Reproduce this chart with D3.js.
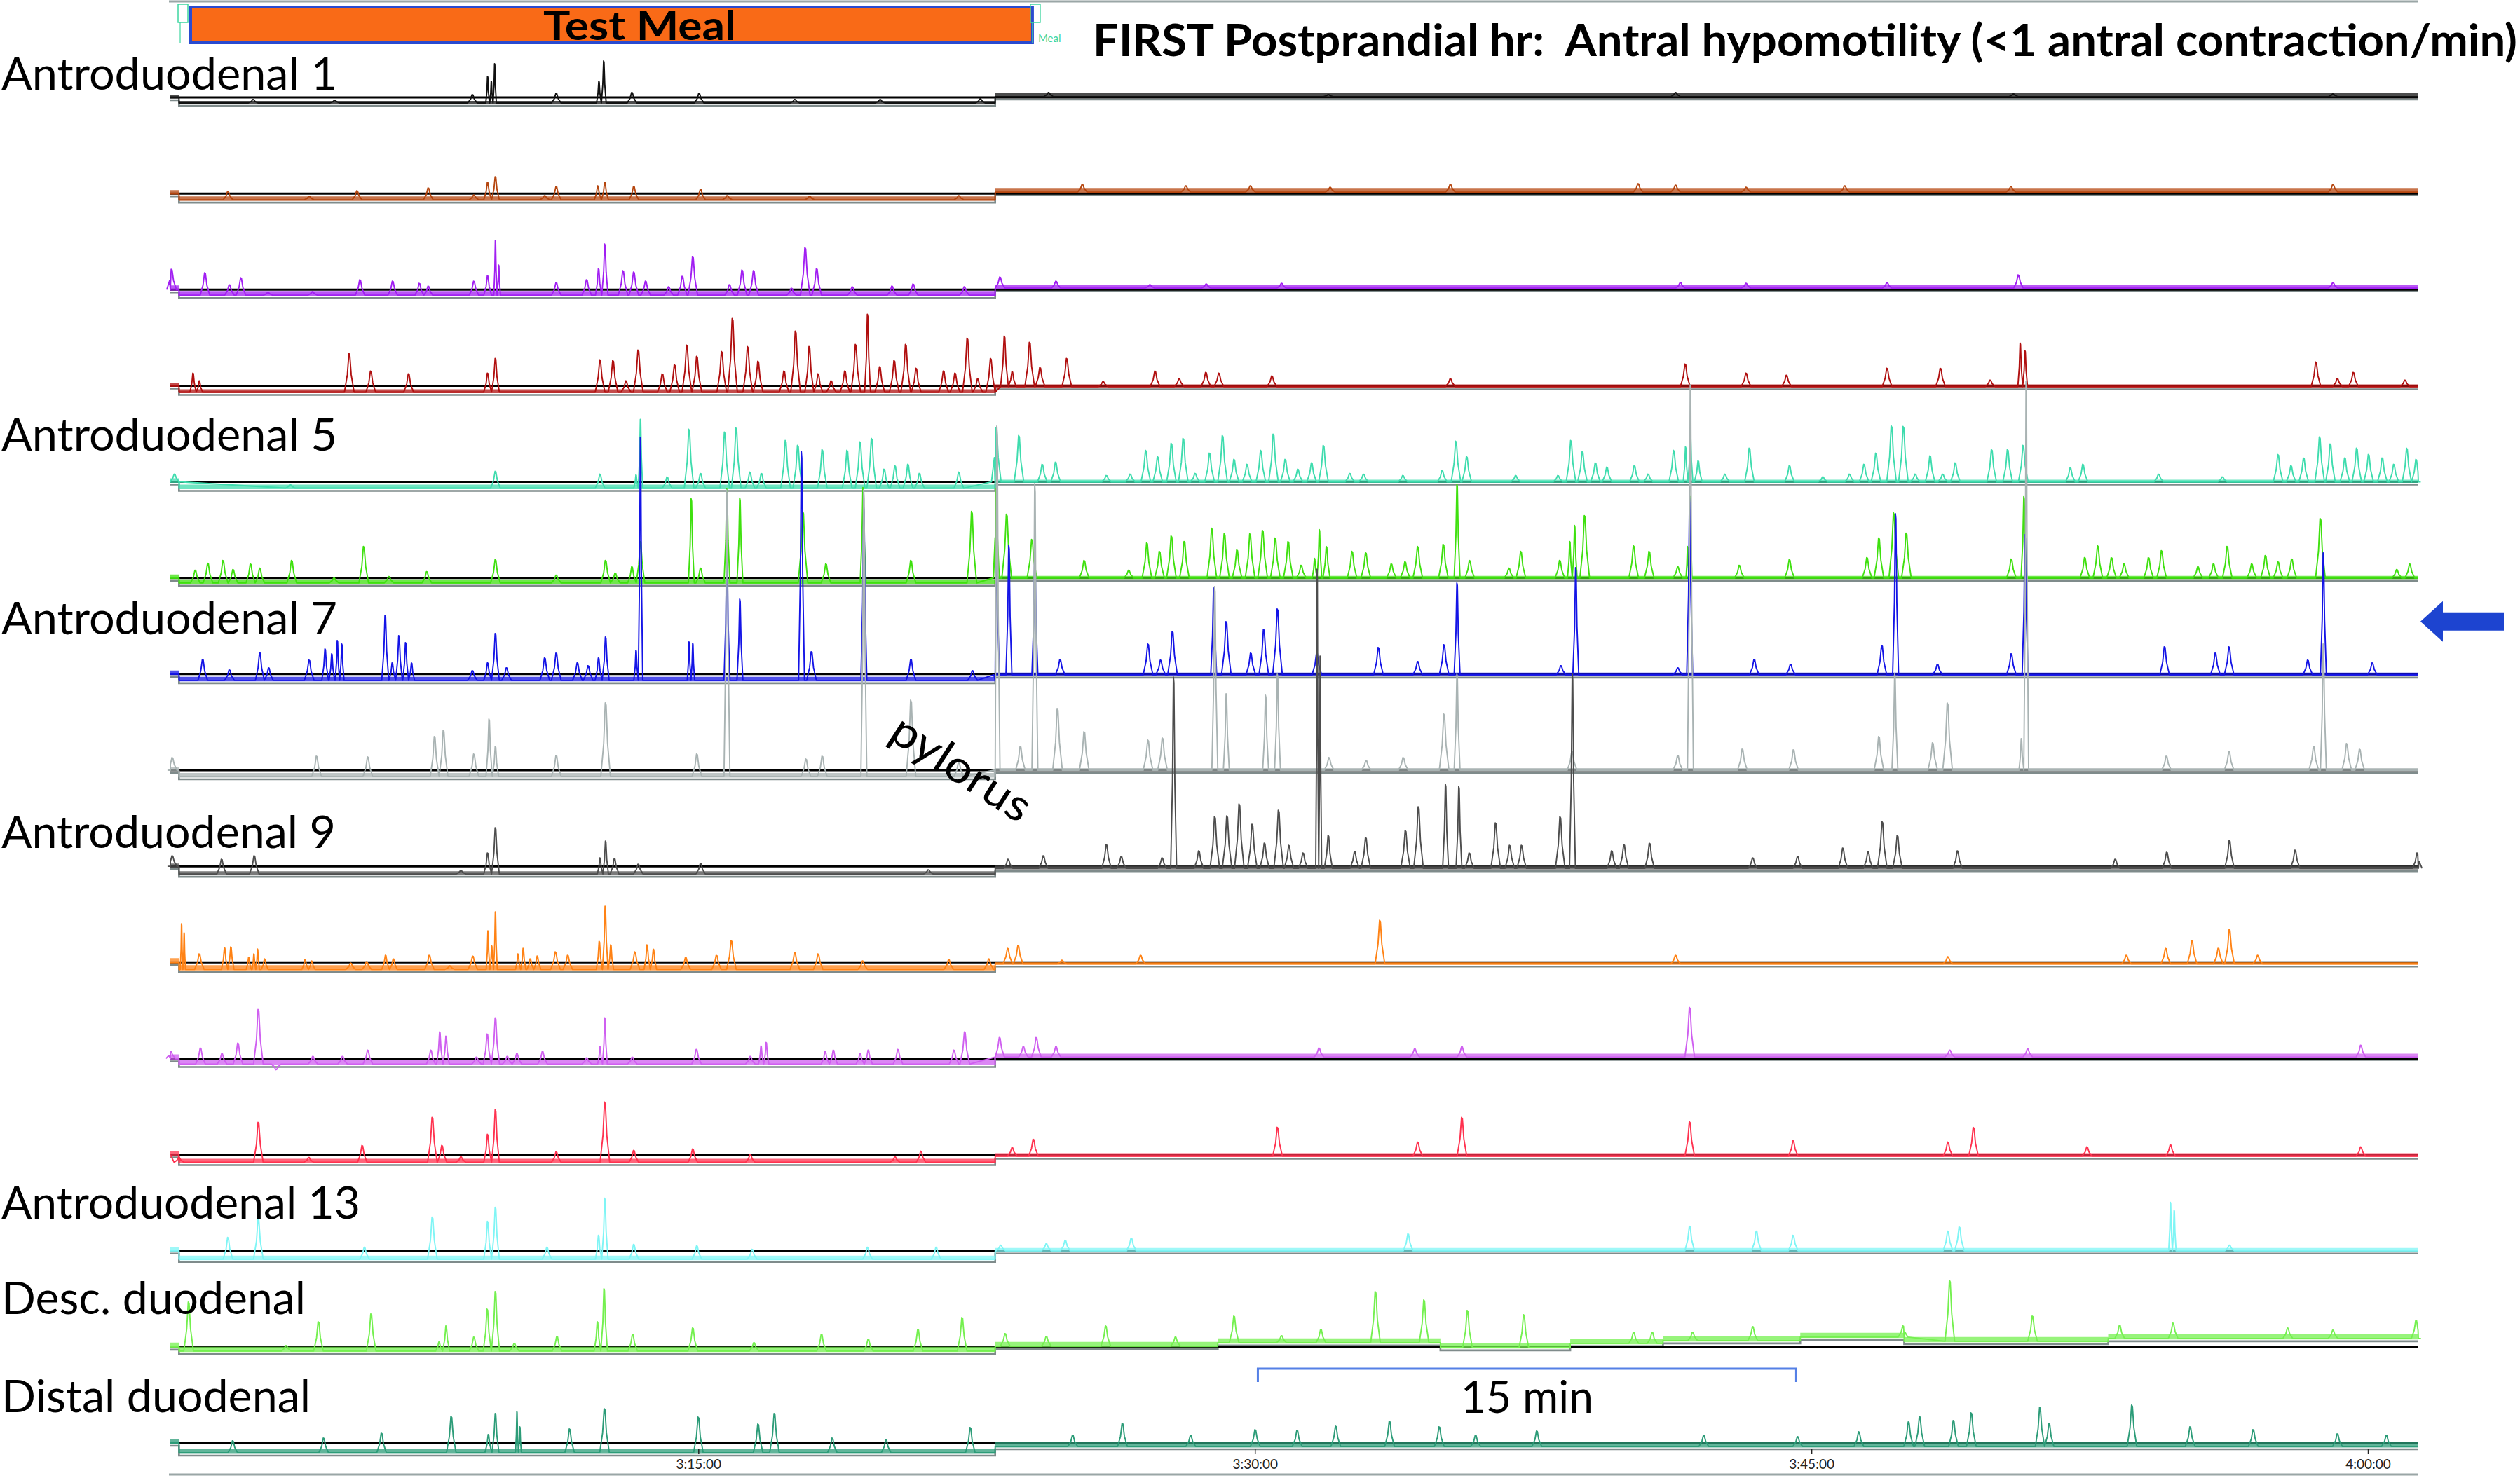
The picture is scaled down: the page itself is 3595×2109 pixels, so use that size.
<!DOCTYPE html>
<html><head><meta charset="utf-8">
<script src="https://cdn.jsdelivr.net/npm/d3@7"></script>
<style>body{margin:0;background:#fff}svg{display:block}text{white-space:pre}</style>
</head><body>
<svg id="chart" width="3595" height="2109"></svg>
<script>
// ---------------- DATA ----------------
// time in minutes after 3:00:00, pressure in mmHg relative to each channel's reference line
const timeDomain = [0.767, 61.36];
const mealWindow = [1.315, 24.005];
const switchTime = 23.0;
const tickTimes = [15, 30, 45, 60];
const tickLabels = ["3:15:00", "3:30:00", "3:45:00", "4:00:00"];
const channelLabels = ["Antroduodenal 1", "", "", "", "Antroduodenal 5", "", "Antroduodenal 7", "", "Antroduodenal 9", "", "", "", "Antroduodenal 13", "Desc. duodenal", "Distal duodenal"];
const titleText = "FIRST Postprandial hr:  Antral hypomotility (<1 antral contraction/min)";
const scaleBarMinutes = [30.08, 44.59];

const restLevels = [
  [[0.767,0],[1.0,-8],[23.0,1]],
  [[0.767,0],[1.0,-9],[23.0,2]],
  [[0.767,0],[1.0,-8],[23.0,2]],
  [[0.767,0],[1.0,-9],[23.0,-1]],
  [[0.767,0],[1.0,-9],[23.0,0]],
  [[0.767,0],[1.0,-7],[23.0,0]],
  [[0.767,0],[1.0,-9],[23.0,-1]],
  [[0.767,0],[1.0,-9],[23.0,0]],
  [[0.767,0],[1.0,-11],[23.0,-3]],
  [[0.767,0],[1.0,-10],[23.0,-2]],
  [[0.767,0],[1.0,-8],[23.0,2]],
  [[0.767,0],[1.0,-11],[23.0,-2]],
  [[0.767,0],[1.0,-12],[23.0,0]],
  [[0.767,0],[1.0,-6],[23.0,1],[29.0,6],[35.0,-1],[38.5,5],[41.0,9],[44.7,14],[47.5,8],[53.0,12]],
  [[0.767,0],[1.0,-14],[23.0,-5]]
];
const noiseBand = [[3,5],[5,6],[6,5],[4,3],[5,3],[5,3],[5,3],[5,3],[4,4],[6,3],[6,5],[5,4],[5,4],[6,6],[6,6]];

const ch1Peaks = [[3.0,-3],[5.2,-4],[8.91,4],[9.32,30],[9.42,23],[9.51,48],[11.17,6],[12.32,23],[12.45,52],[13.21,7],[15.02,6],[17.6,-3],[19.9,-3],[22.6,-2],[24.44,7],[31.98,4],[41.34,7],[50.45,5],[59.06,5]];
const ch2Peaks = [[2.32,3],[4.51,-4],[5.80,4],[7.72,8],[8.95,-2],[9.32,16],[9.53,24],[10.86,-3],[11.17,10],[12.29,11],[12.48,16],[13.26,10],[15.06,6],[15.78,-3],[18.0,-4],[22.02,-3],[25.35,13],[28.14,11],[29.88,11],[32.03,9],[35.27,13],[40.33,14],[41.34,12],[43.24,9],[45.9,11],[50.38,10],[59.06,13]];
const ch3Peaks = [[0.80,29],[1.70,24],[2.36,7],[2.67,17],[3.4,-4],[4.6,-3],[5.88,14],[6.76,12],[7.48,9],[7.72,5],[8.95,12],[9.32,20],[9.53,70],[9.62,35],[11.17,10],[11.99,14],[12.31,30],[12.48,65],[12.97,27],[13.26,25],[13.58,12],[14.20,4],[14.57,19],[14.85,47],[15.84,7],[16.18,28],[16.49,27],[17.51,2],[17.88,60],[18.19,30],[19.15,4],[20.22,5],[20.79,8],[22.17,4],[23.13,18],[24.64,12],[27.17,7],[28.69,8],[30.72,9],[41.47,10],[43.24,9],[47.04,10],[50.58,21],[59.06,10]];
const ch4Peaks = [[1.38,18],[1.55,7],[5.59,46],[6.17,21],[7.19,17],[9.32,18],[9.53,39],[12.35,37],[12.70,36],[13.05,7],[13.38,51],[14.03,17],[14.36,30],[14.69,58],[14.96,42],[15.63,49],[15.92,96],[16.33,56],[16.61,35],[17.31,21],[17.62,78],[17.99,56],[18.23,17],[18.58,7],[18.95,21],[19.24,59],[19.56,102],[19.89,27],[20.28,36],[20.59,59],[20.87,25],[21.61,21],[21.92,18],[22.25,68],[22.53,10],[22.88,39],[23.25,71],[23.46,20],[23.93,62],[24.21,26],[24.93,39],[25.91,6],[27.31,21],[27.96,10],[28.68,19],[29.03,18],[30.46,14],[35.27,10],[41.6,31],[43.24,18],[44.33,15],[47.04,25],[48.48,25],[49.82,8],[50.63,61],[50.76,50],[58.6,34],[59.18,10],[59.61,19],[61.0,8]];
const ch5Peaks = [[0.88,11],[4.0,-4],[9.53,15],[12.35,11],[13.32,10],[13.44,89],[14.16,7],[14.75,75],[15.06,12],[15.71,71],[16.02,77],[16.39,14],[16.70,12],[17.35,59],[17.68,52],[18.34,46],[19.01,45],[19.36,57],[19.67,62],[20.01,18],[20.30,23],[20.65,25],[20.96,12],[22.02,14],[23.03,77],[23.64,66],[24.27,25],[24.63,28],[26.0,9],[26.64,11],[27.06,45],[27.38,36],[27.75,55],[28.07,62],[28.39,12],[28.78,41],[29.13,66],[29.44,32],[29.79,25],[30.16,45],[30.5,68],[30.82,32],[31.16,18],[31.53,27],[31.85,52],[32.56,12],[32.93,11],[33.99,9],[35.05,16],[35.42,58],[35.71,36],[37.03,9],[38.17,9],[38.52,59],[38.83,43],[39.18,27],[39.49,21],[40.23,23],[40.6,11],[41.29,45],[41.61,50],[41.74,68],[41.95,30],[42.67,11],[43.33,48],[44.41,23],[45.31,7],[46.03,11],[46.42,25],[46.74,41],[47.16,80],[47.48,79],[47.8,11],[48.2,37],[48.54,11],[48.88,27],[49.86,46],[50.29,46],[50.71,52],[51.98,20],[52.32,25],[54.36,11],[56.08,7],[57.58,39],[57.93,23],[58.27,34],[58.7,64],[58.99,54],[59.38,34],[59.7,48],[60.02,39],[60.39,34],[60.7,25],[61.05,48],[61.3,32]];
const ch6Peaks = [[1.44,11],[1.78,21],[2.19,25],[2.46,12],[2.93,20],[3.18,14],[4.04,25],[5.18,0],[5.98,45],[6.66,2],[7.68,9],[9.53,26],[11.17,4],[12.5,25],[12.76,7],[13.21,16],[13.44,52],[14.81,113],[15.06,14],[15.77,127],[16.12,114],[17.82,95],[18.44,20],[19.44,129],[20.73,25],[22.37,95],[23.03,128],[23.31,91],[23.99,55],[25.4,25],[26.6,11],[27.09,50],[27.43,38],[27.75,60],[28.1,52],[28.84,71],[29.18,63],[29.52,40],[29.87,63],[30.21,68],[30.55,57],[30.9,52],[31.25,18],[31.61,28],[31.74,69],[31.93,45],[32.62,38],[32.99,36],[33.68,20],[34.05,23],[34.39,45],[35.08,48],[35.45,134],[35.79,25],[36.85,14],[37.17,38],[38.22,25],[38.49,52],[38.62,75],[38.89,89],[40.21,46],[40.63,38],[41.4,16],[41.66,45],[41.74,116],[43.06,18],[44.41,26],[46.5,29],[46.82,57],[47.22,93],[47.56,64],[50.39,27],[50.73,116],[52.37,29],[52.72,46],[53.09,29],[53.43,20],[54.09,29],[54.44,39],[55.42,16],[55.84,20],[56.21,45],[56.87,20],[57.24,32],[57.58,23],[57.95,27],[58.72,85],[60.78,12],[61.13,20]];
const ch7Peaks = [[1.64,21],[2.36,6],[3.18,31],[3.42,9],[4.51,20],[4.94,36],[5.12,29],[5.27,48],[5.39,43],[6.56,84],[6.75,16],[6.93,55],[7.11,45],[7.27,16],[8.91,5],[9.32,16],[9.53,58],[9.83,9],[10.86,23],[11.17,30],[11.74,16],[12.03,12],[12.31,23],[12.5,53],[13.32,34],[13.44,338],[14.75,46],[14.85,44],[15.77,171],[16.12,107],[17.78,318],[18.05,32],[19.46,239],[20.73,21],[22.39,5],[23.04,159],[23.37,184],[24.07,166],[24.75,21],[27.12,43],[27.46,20],[27.78,61],[28.89,123],[29.23,75],[29.89,30],[30.24,64],[30.61,93],[31.67,30],[33.33,38],[34.39,18],[35.1,42],[35.45,130],[38.25,12],[38.65,152],[41.4,9],[41.72,252],[43.46,21],[44.44,14],[46.9,41],[47.27,229],[48.4,14],[50.39,29],[50.76,199],[54.52,39],[55.89,30],[56.26,39],[58.38,20],[58.8,173],[60.12,16]];
const ch8Peaks = [[0.82,18],[4.71,20],[6.09,19],[7.89,48],[8.13,57],[8.95,23],[9.36,73],[9.53,34],[11.17,21],[12.5,96],[14.96,23],[15.77,400],[17.9,16],[18.34,20],[19.46,400],[20.73,100],[22.02,12],[23.05,491],[23.68,34],[24.07,409],[24.68,88],[25.4,55],[27.12,43],[27.51,46],[28.92,262],[29.23,109],[30.29,107],[30.61,137],[32.0,18],[33.0,14],[34.0,18],[35.1,80],[35.45,137],[38.55,27],[41.4,21],[41.74,550],[43.14,30],[44.52,29],[46.82,48],[47.25,137],[48.27,39],[48.67,96],[50.66,45],[50.79,555],[54.57,20],[56.26,27],[58.54,34],[58.8,180],[59.43,38],[59.78,30]];
const ch9Peaks = [[0.82,15],[2.15,10],[3.03,15],[8.6,-6],[9.32,19],[9.53,55],[12.35,12],[12.5,36],[12.74,11],[13.38,3],[15.06,4],[21.2,-5],[23.35,10],[24.3,15],[26.0,31],[26.4,14],[27.5,12],[27.81,270],[28.49,22],[28.92,71],[29.25,72],[29.58,89],[29.93,60],[30.26,33],[30.64,80],[30.92,30],[31.3,19],[31.68,424],[31.76,300],[31.98,44],[32.69,21],[32.99,41],[34.06,51],[34.41,85],[35.14,117],[35.5,114],[35.78,19],[36.49,62],[36.87,30],[37.19,30],[38.23,71],[38.56,275],[39.62,22],[39.95,31],[40.64,33],[43.42,12],[44.63,14],[45.85,26],[46.53,21],[46.91,64],[47.32,44],[48.94,22],[53.19,10],[54.58,20],[56.27,37],[58.04,23],[61.33,19]];
const ch10Peaks = [[1.07,55],[1.14,42],[1.55,12],[2.23,21],[2.40,22],[2.88,7],[3.02,12],[3.12,19],[3.31,5],[4.40,4],[4.58,2],[5.63,-1],[6.06,1],[6.57,10],[6.78,5],[7.75,10],[8.30,-5],[8.92,9],[9.33,45],[9.43,24],[9.53,72],[10.14,12],[10.28,20],[10.47,5],[10.66,9],[11.15,15],[11.48,10],[12.33,30],[12.49,80],[12.64,25],[13.29,15],[13.62,25],[13.79,19],[14.66,7],[15.49,10],[15.89,31],[17.60,14],[18.23,12],[19.43,2],[21.75,4],[22.83,5],[23.34,20],[23.62,24],[24.8,3],[26.92,10],[33.37,60],[41.34,10],[48.68,8],[53.49,10],[54.55,20],[55.26,31],[55.97,20],[56.27,47],[57.03,10]];
const ch11Peaks = [[0.78,10],[1.58,15],[2.16,7],[2.59,22],[3.14,70],[3.62,-16],[4.61,3],[5.41,3],[6.09,12],[7.79,12],[8.03,38],[8.2,32],[9.02,2],[9.31,35],[9.53,58],[9.85,3],[10.11,7],[10.80,10],[11.99,1],[12.35,17],[12.48,58],[13.22,2],[14.95,13],[16.4,3],[16.69,18],[16.83,23],[18.42,10],[18.64,12],[19.36,7],[19.58,12],[20.38,13],[21.89,12],[22.18,38],[23.12,30],[23.76,17],[24.11,30],[24.64,17],[31.73,15],[34.31,14],[35.58,17],[41.72,73],[48.73,12],[50.83,14],[59.81,19]];
const ch12Peaks = [[1.0,-4],[3.14,46],[4.5,-4],[5.94,13],[7.83,53],[8.09,13],[8.6,-3],[9.32,29],[9.53,64],[11.17,4],[12.48,75],[13.26,6],[14.85,8],[16.4,0],[20.3,-3],[21.0,5],[23.46,10],[24.03,22],[30.61,39],[34.39,18],[35.58,53],[41.72,47],[44.51,20],[48.68,18],[49.37,39],[52.43,11],[54.68,14],[59.81,11]];
const ch13Peaks = [[2.32,19],[3.14,45],[6.0,5],[7.83,48],[9.32,42],[9.53,62],[10.92,5],[12.31,22],[12.48,75],[13.26,9],[14.96,7],[16.45,2],[19.56,5],[21.41,5],[23.15,8],[24.38,10],[24.89,15],[26.67,18],[34.13,24],[41.72,35],[43.52,28],[44.51,22],[48.68,28],[48.99,34],[54.68,69],[54.78,58],[56.27,8]];
const ch14Peaks = [[1.26,64],[3.89,2],[4.76,36],[6.18,47],[8.01,7],[8.2,30],[8.95,14],[9.31,54],[9.53,79],[10.04,5],[11.19,15],[12.28,36],[12.46,83],[13.23,18],[14.85,27],[16.5,6],[18.32,18],[19.58,11],[20.92,25],[22.11,42],[23.27,19],[24.38,15],[25.98,30],[27.86,14],[29.44,44],[30.72,16],[31.78,25],[33.25,79],[34.56,67],[35.73,52],[37.25,46],[40.21,21],[40.71,21],[41.8,21],[43.42,29],[47.47,30],[48.73,95],[50.96,44],[53.31,31],[54.75,34],[57.84,27],[59.06,24],[61.3,38]];
const ch15Peaks = [[2.45,3],[4.9,7],[6.46,14],[8.34,38],[9.34,12],[9.53,42],[10.11,45],[10.19,23],[11.53,20],[12.47,49],[15.0,37],[16.61,27],[17.05,42],[18.61,7],[20.06,5],[22.33,22],[25.09,11],[26.43,28],[28.27,11],[30.01,19],[31.14,18],[32.18,24],[33.63,31],[34.97,23],[35.95,11],[37.6,17],[42.1,11],[44.63,9],[46.28,16],[47.62,30],[47.92,38],[48.83,32],[49.31,43],[51.16,51],[51.41,28],[53.64,54],[55.21,23],[56.91,19],[59.18,13],[60.5,11]];

const channelPeaks = [ch1Peaks, ch2Peaks, ch3Peaks, ch4Peaks, ch5Peaks, ch6Peaks, ch7Peaks, ch8Peaks, ch9Peaks, ch10Peaks, ch11Peaks, ch12Peaks, ch13Peaks, ch14Peaks, ch15Peaks];

// ---------------- STYLE ----------------
const channelColors = ["#111111","#b5460f","#a11ff2","#b00f0f","#3fdcae","#3fe00f","#1414e6","#a9b3b3","#4d4d4d","#ff8214","#cf5ff0","#ff324f","#7ff5f5","#74f04f","#2c9c78"];
const labelOffsets = {0: -11, 4: -45, 6: -57, 8: -26, 12: -46, 13: -47, 14: -44};
const labelWidths = {0: 479, 4: 479, 6: 479, 8: 477, 12: 512, 13: 434, 14: 441};
const FONT = "Lato, 'Open Sans', sans-serif";

// ---------------- SCALES ----------------
const toDate = m => new Date(2000, 0, 1, 3, 0, 0, Math.round(m * 60000));
const x = d3.scaleTime().domain(timeDomain.map(toDate)).range([243, 3450]);
const yBase = d3.scalePoint().domain(d3.range(15)).range([139, 2059]);
const yP = d3.scaleLinear().domain([0, 137]).range([0, -137]);

const svg = d3.select("#chart");

function restAt(steps, t) {
  let r = steps[0][1];
  for (const s of steps) if (s[0] <= t) r = s[1];
  return r;
}
function buildTrace(peaks, steps) {
  const P = peaks.slice().sort((a, b) => a[0] - b[0]);
  const pts = [[timeDomain[0], steps[0][1]]];
  steps.slice(1).forEach(([tb, lv], k) => { pts.push([tb, steps[k][1]], [tb, lv]); });
  P.forEach(([t, a], k) => {
    const prev = k > 0 ? t - P[k - 1][0] : 1, next = k < P.length - 1 ? P[k + 1][0] - t : 1;
    const w = Math.min(a > 100 ? 0.08 : 0.13, prev / 2, next / 2);
    const r = restAt(steps, t);
    pts.push([t - w, r], [t - 0.4 * w, r + (a - r) * 0.45], [t - 0.08 * w, a], [t + 0.1 * w, a * 0.97 + r * 0.03], [t + 0.4 * w, r + (a - r) * 0.45], [t + w, r]);
  });
  pts.push([timeDomain[1], restAt(steps, timeDomain[1])]);
  pts.sort((a, b) => a[0] - b[0]);
  return pts;
}
function stepPoints(steps) {
  const pts = steps.map(s => [s[0], s[1]]);
  pts.push([timeDomain[1], steps[steps.length - 1][1]]);
  return pts;
}

// top & bottom frame lines
svg.append("line").attr("x1", 241).attr("x2", 3450).attr("y1", 2).attr("y2", 2).attr("stroke", "#9aa6a6").attr("stroke-width", 3);
svg.append("line").attr("x1", 241).attr("x2", 3450).attr("y1", 2104).attr("y2", 2104).attr("stroke", "#9aa6a6").attr("stroke-width", 3);

// channels
const gCh = svg.append("g");
channelPeaks.forEach((peaks, i) => {
  const base = yBase(i);
  const steps = restLevels[i];
  const col = channelColors[i];
  const g = gCh.append("g");
  const sp = stepPoints(steps);
  // grey step reference
  g.append("path").attr("d", d3.line().curve(d3.curveStepAfter).x(d => x(toDate(d[0]))).y(d => base + yP(d[1] - 4))(sp))
    .attr("fill", "none").attr("stroke", "#7f8b8b").attr("stroke-width", 2.6);
  // black reference line
  g.append("line").attr("x1", x(toDate(timeDomain[0]))).attr("x2", x(toDate(timeDomain[1])))
    .attr("y1", base).attr("y2", base).attr("stroke", "#000").attr("stroke-width", 3);
  // noise band
  const nb = noiseBand[i];
  g.append("path").attr("d", d3.area().curve(d3.curveStepAfter)
      .x(d => x(toDate(d[0])))
      .y0(d => base + yP(d[1] - 1.5))
      .y1(d => base + yP(d[1] + (d[0] < switchTime ? nb[0] : nb[1])))(sp))
    .attr("fill", col).attr("opacity", 0.75);
  // pressure trace
  g.append("path").attr("d", d3.line().x(d => x(toDate(d[0]))).y(d => base + yP(d[1]))(buildTrace(peaks, steps)))
    .attr("fill", "none").attr("stroke", col).attr("stroke-width", 1.9).attr("stroke-linejoin", "round");
});

// channel labels
channelLabels.forEach((lab, i) => {
  if (!lab) return;
  svg.append("text").attr("x", 2).attr("y", yBase(i) + labelOffsets[i])
    .attr("font-family", FONT).attr("font-size", 64).attr("fill", "#000")
    .attr("textLength", labelWidths[i]).attr("lengthAdjust", "spacingAndGlyphs").text(lab);
});

// meal bar
const mx0 = x(toDate(mealWindow[0])), mx1 = x(toDate(mealWindow[1]));
svg.append("rect").attr("x", mx0).attr("y", 10).attr("width", mx1 - mx0).attr("height", 51)
  .attr("fill", "#f96a17").attr("stroke", "#2a4bd0").attr("stroke-width", 4);
svg.append("text").attr("x", 775).attr("y", 57).attr("font-family", FONT).attr("font-weight", 700)
  .attr("font-size", 57).attr("textLength", 275).attr("lengthAdjust", "spacingAndGlyphs").text("Test Meal");
// event markers
[mx0 - 18, mx1 - 3].forEach(mx => {
  svg.append("rect").attr("x", mx).attr("y", 6).attr("width", 14).attr("height", 26).attr("fill", "none").attr("stroke", "#3ed6a0").attr("stroke-width", 1.5);
  svg.append("line").attr("x1", mx + 3).attr("x2", mx + 3).attr("y1", 32).attr("y2", 62).attr("stroke", "#3ed6a0").attr("stroke-width", 1.2);
});
svg.append("text").attr("x", mx1 + 8).attr("y", 60).attr("font-family", FONT).attr("font-size", 15).attr("fill", "#3ed6a0").text("Meal");

// title
svg.append("text").attr("x", 1559).attr("y", 80).attr("font-family", FONT).attr("font-weight", 700)
  .attr("font-size", 64).attr("textLength", 2032).attr("lengthAdjust", "spacingAndGlyphs").text(titleText);

// pylorus annotation
svg.append("text").attr("transform", `translate(1373,1094) rotate(33)`).attr("text-anchor", "middle")
  .attr("dominant-baseline", "central").attr("font-family", FONT).attr("font-size", 64).attr("textLength", 225)
  .attr("lengthAdjust", "spacingAndGlyphs").text("pylorus");

// arrow pointing at channel 7
const ax = x(toDate(timeDomain[1])) + 3, ay = yBase(6) - 75;
svg.append("path").attr("d", `M${ax},${ay} L${ax + 32},${ay - 29} L${ax + 32},${ay - 13} L${ax + 119},${ay - 13} L${ax + 119},${ay + 13} L${ax + 32},${ay + 13} L${ax + 32},${ay + 29} Z`)
  .attr("fill", "#1d44d0");

// 15 min scale bar
const sb0 = x(toDate(scaleBarMinutes[0])), sb1 = x(toDate(scaleBarMinutes[1]));
svg.append("path").attr("d", `M${sb0},1972 L${sb0},1953 L${sb1},1953 L${sb1},1972`).attr("fill", "none").attr("stroke", "#5580e6").attr("stroke-width", 3);
svg.append("text").attr("x", (sb0 + sb1) / 2).attr("y", 2016).attr("text-anchor", "middle").attr("font-family", FONT)
  .attr("font-size", 64).attr("textLength", 189).attr("lengthAdjust", "spacingAndGlyphs").text("15 min");

// time axis
const axis = d3.axisBottom(x).tickValues(tickTimes.map(toDate)).tickSize(8)
  .tickFormat((d, k) => tickLabels[k]);
const gAx = svg.append("g").attr("transform", "translate(0,2067)").call(axis);
gAx.select(".domain").remove();
gAx.selectAll(".tick line").attr("stroke", "#222").attr("stroke-width", 1.5);
gAx.selectAll(".tick text").attr("y", 16).attr("font-family", FONT).attr("font-size", 19).attr("fill", "#222");
</script>
</body></html>
